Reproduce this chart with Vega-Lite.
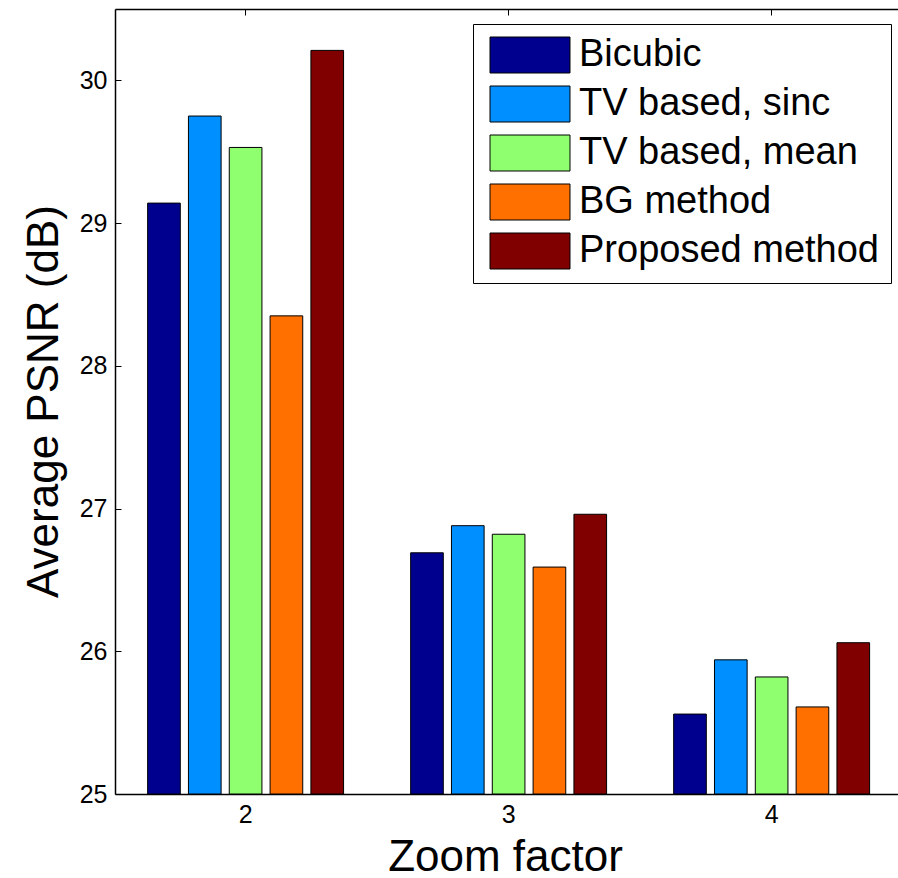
{
  "$schema": "https://vega.github.io/schema/vega-lite/v6.json",
  "autosize": "none",
  "width": 783,
  "height": 785,
  "padding": {"left": 115, "top": 9, "right": 0, "bottom": 84},
  "background": "white",
  "config": {
    "view": {"stroke": null},
    "font": "Liberation Sans",
    "axis": {"domainColor": "black", "tickColor": "black", "labelColor": "black", "titleColor": "black", "grid": false, "labelFont": "Liberation Sans", "titleFont": "Liberation Sans", "titleFontWeight": "normal"}
  },
  "data": {
    "values": [
      {"zoom": "2", "method": "Bicubic", "psnr": 29.14},
      {"zoom": "2", "method": "TV based, sinc", "psnr": 29.75},
      {"zoom": "2", "method": "TV based, mean", "psnr": 29.53},
      {"zoom": "2", "method": "BG method", "psnr": 28.35},
      {"zoom": "2", "method": "Proposed method", "psnr": 30.21},
      {"zoom": "3", "method": "Bicubic", "psnr": 26.69},
      {"zoom": "3", "method": "TV based, sinc", "psnr": 26.88},
      {"zoom": "3", "method": "TV based, mean", "psnr": 26.82},
      {"zoom": "3", "method": "BG method", "psnr": 26.59},
      {"zoom": "3", "method": "Proposed method", "psnr": 26.96},
      {"zoom": "4", "method": "Bicubic", "psnr": 25.56},
      {"zoom": "4", "method": "TV based, sinc", "psnr": 25.94},
      {"zoom": "4", "method": "TV based, mean", "psnr": 25.82},
      {"zoom": "4", "method": "BG method", "psnr": 25.61},
      {"zoom": "4", "method": "Proposed method", "psnr": 26.06}
    ]
  },
  "layer": [
    {
      "mark": {"type": "bar", "stroke": "black", "strokeWidth": 1, "clip": true},
      "encoding": {
        "x": {"field": "zoom", "type": "nominal", "scale": {"domain": ["2", "3", "4"], "paddingInner": 0.224, "paddingOuter": 0.1005, "align": 0.54}, "axis": {"orient": "bottom", "title": "Zoom factor", "labelAngle": 0, "labelFontSize": 25, "labelPadding": 8, "ticks": false, "titleFontSize": 44, "titleX": 390, "titleY": 76, "titleBaseline": "alphabetic", "titleAlign": "center", "domainWidth": 1.5}},
        "xOffset": {"field": "method", "type": "nominal", "scale": {"domain": ["Bicubic", "TV based, sinc", "TV based, mean", "BG method", "Proposed method"], "paddingInner": 0.2, "paddingOuter": 0.1}},
        "y": {"field": "psnr", "type": "quantitative", "scale": {"domain": [25, 30.5], "nice": false, "zero": false, "clamp": true}, "axis": {"title": "Average PSNR (dB)", "values": [25, 26, 27, 28, 29, 30], "format": "d", "labelFontSize": 25, "tickSize": -6, "labelPadding": 14, "titleFontSize": 44, "titleX": -58, "titleY": 392, "titleBaseline": "alphabetic", "titleAlign": "center", "titleAngle": -90, "domainWidth": 1.5}},
        "fill": {"field": "method", "type": "nominal", "scale": {"domain": ["Bicubic", "TV based, sinc", "TV based, mean", "BG method", "Proposed method"], "range": ["#00008F", "#008FFF", "#8FFF70", "#FF7000", "#800000"]}, "legend": {"title": null, "orient": "none", "legendX": 358, "legendY": 15, "fillColor": "white", "strokeColor": "black", "padding": 12, "symbolType": "M-2.222,-1H2.222V1H-2.222Z", "symbolSize": 1296, "symbolOffset": 26, "symbolStrokeColor": "black", "symbolStrokeWidth": 1, "labelFontSize": 38, "labelFont": "Liberation Sans", "labelColor": "black", "labelOffset": 30, "rowPadding": 9, "labelLimit": 400}}
      }
    },
    {
      "mark": {"type": "bar", "opacity": 0},
      "encoding": {
        "x": {"field": "zoom", "type": "nominal", "axis": {"orient": "top", "title": null, "labels": false, "tickSize": -6, "domainWidth": 1.5}},
        "xOffset": {"field": "method", "type": "nominal"},
        "y": {"field": "psnr", "type": "quantitative"}
      }
    }
  ],
  "resolve": {"axis": {"x": "independent"}}
}
